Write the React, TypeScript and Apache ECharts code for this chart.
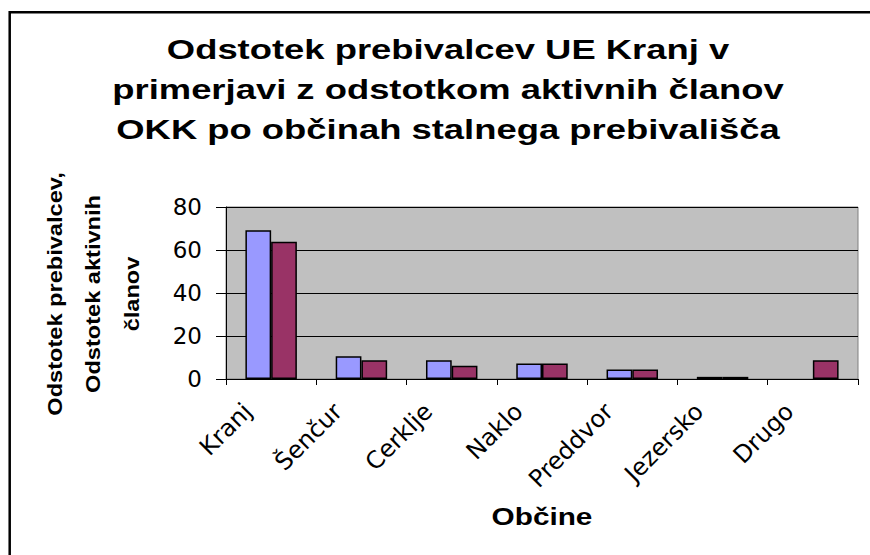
import React, { useEffect, useRef } from "react";
import * as echarts from "echarts";

const categories = ["Kranj", "Šenčur", "Cerklje", "Naklo", "Preddvor", "Jezersko", "Drugo"];
const residentShare = [69.2, 10.6, 8.7, 7.2, 4.4, 1.0, 0];
const memberShare = [63.8, 8.7, 6.2, 7.2, 4.4, 1.0, 8.7];
const seriesNames = ["Odstotek prebivalcev", "Odstotek aktivnih članov"];
const yMin = 0;
const yMax = 80;
const yStep = 20;

const titleText =
  "Odstotek prebivalcev UE Kranj v\nprimerjavi z odstotkom aktivnih članov\nOKK po občinah stalnega prebivališča";
const yTitleText = "Odstotek prebivalcev,\nOdstotek aktivnih\nčlanov";
const xTitleText = "Občine";

const ARIAL = '"Liberation Sans", Arial, sans-serif';
const WIDE = '"DejaVu Sans", Verdana, sans-serif';

const toData = (arr: number[]) =>
  arr.map((v) => (v === 0 ? { value: v, itemStyle: { opacity: 0, borderWidth: 0 } } : v));

export default function App() {
  const ref = useRef<HTMLDivElement>(null);

  useEffect(() => {
    if (!ref.current) return;
    const chart = echarts.init(ref.current, null, { renderer: "svg" });
    chart.setOption({
      animation: false,
      backgroundColor: "#ffffff",
      grid: {
        left: 226,
        right: 12,
        top: 207,
        bottom: 176,
        containLabel: false,
        show: true,
        backgroundColor: "#C0C0C0",
        borderColor: "#808080",
        borderWidth: 1,
      },
      xAxis: {
        type: "category",
        data: categories,
        axisLine: { show: true, lineStyle: { color: "#000", width: 1 } },
        axisTick: { show: true, alignWithLabel: false, interval: 0, length: 6, lineStyle: { color: "#000" } },
        axisLabel: {
          interval: 0,
          rotate: 45,
          margin: 22,
          padding: [0, 21, 0, 0],
          verticalAlign: "bottom",
          fontFamily: WIDE,
          fontSize: 24,
          color: "#000",
        },
        splitLine: { show: false },
      },
      yAxis: {
        type: "value",
        min: yMin,
        max: yMax,
        interval: yStep,
        axisLine: { show: true, lineStyle: { color: "#000", width: 1 } },
        axisTick: { show: true, length: 10, lineStyle: { color: "#000" } },
        axisLabel: {
          margin: 24,
          fontFamily: WIDE,
          fontSize: 23,
          color: "#000",
        },
        splitLine: { show: true, lineStyle: { color: "#000", width: 1 } },
      },
      series: [
        {
          name: seriesNames[0],
          type: "bar",
          data: toData(residentShare),
          barGap: "0%",
          barCategoryGap: "43%",
          itemStyle: { color: "#9999FF", borderColor: "#000", borderWidth: 1.5 },
        },
        {
          name: seriesNames[1],
          type: "bar",
          data: toData(memberShare),
          barGap: "0%",
          barCategoryGap: "43%",
          itemStyle: { color: "#993366", borderColor: "#000", borderWidth: 1.5 },
        },
      ],
      graphic: [
        {
          type: "rect",
          shape: { x: 9.7, y: 12.2, width: 900, height: 600 },
          style: { fill: "none", stroke: "#000", lineWidth: 2.5 },
          silent: true,
        },
        {
          type: "text",
          x: 448,
          y: 30,
          scaleX: 1.3,
          style: {
            text: titleText,
            fontFamily: ARIAL,
            fontWeight: "bold",
            fontSize: 28,
            lineHeight: 40,
            align: "center",
            verticalAlign: "top",
            textAlign: "center",
            textVerticalAlign: "top",
            fill: "#000",
          },
        },
        {
          type: "text",
          x: 93.5,
          y: 294,
          rotation: Math.PI / 2,
          scaleX: 1.18,
          style: {
            text: yTitleText,
            fontFamily: ARIAL,
            fontWeight: "bold",
            fontSize: 20,
            lineHeight: 38.5,
            align: "center",
            verticalAlign: "middle",
            textAlign: "center",
            textVerticalAlign: "middle",
            fill: "#000",
          },
        },
        {
          type: "text",
          x: 542,
          y: 517,
          scaleX: 1.24,
          style: {
            text: xTitleText,
            fontFamily: ARIAL,
            fontWeight: "bold",
            fontSize: 24,
            align: "center",
            verticalAlign: "middle",
            textAlign: "center",
            textVerticalAlign: "middle",
            fill: "#000",
          },
        },
      ],
    });
    return () => chart.dispose();
  }, []);

  return (
    <div
      ref={ref}
      style={{ position: "absolute", left: 0, top: 0, width: 870, height: 555 }}
    />
  );
}
